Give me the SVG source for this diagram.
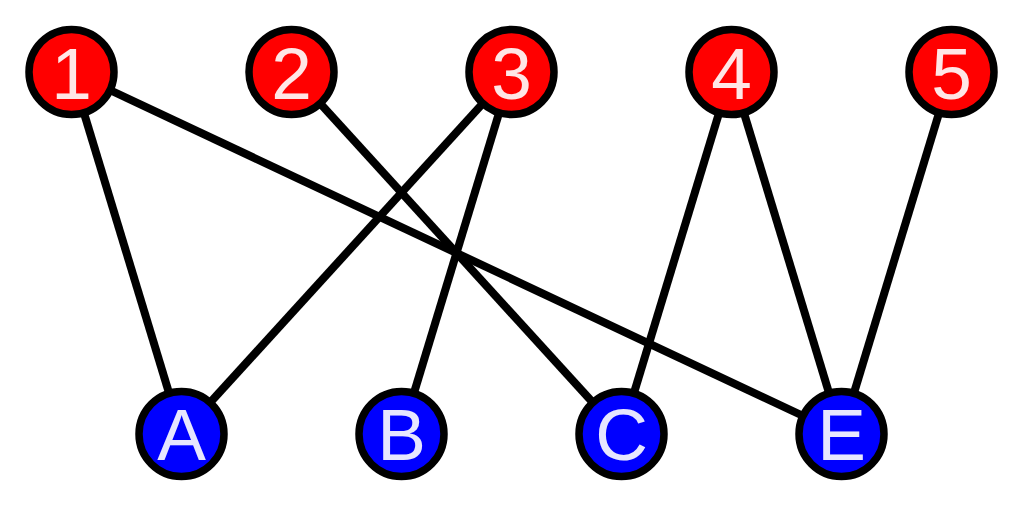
<svg xmlns="http://www.w3.org/2000/svg" width="1024" height="506" viewBox="0 0 1024 506">
<style>
.e{stroke:#000;stroke-width:8;fill:none}
.n circle{stroke:#000;stroke-width:7.5}
.r circle{fill:#ff0000}
.b circle{fill:#0000ff}
.n text{font-family:"Liberation Sans",Arial,sans-serif;font-size:73px;text-anchor:middle}
.r text{fill:#ffe6e6}
.b text{fill:#e6e6ff}
</style>
<rect width="1024" height="506" fill="#fff"/>
<g id="edges">
<line class="e" x1="71.5" y1="72" x2="181.5" y2="434"/>
<line class="e" x1="71.5" y1="72" x2="841.5" y2="434"/>
<line class="e" x1="291.5" y1="72" x2="621.5" y2="434"/>
<line class="e" x1="511.5" y1="72" x2="181.5" y2="434"/>
<line class="e" x1="511.5" y1="72" x2="401.5" y2="434"/>
<line class="e" x1="731.5" y1="72" x2="621.5" y2="434"/>
<line class="e" x1="731.5" y1="72" x2="841.5" y2="434"/>
<line class="e" x1="951.5" y1="72" x2="841.5" y2="434"/>
</g>
<g id="n1" class="n r"><circle cx="71.5" cy="72" r="42.5"/><text x="71.5" y="99">1</text></g>
<g id="n2" class="n r"><circle cx="291.5" cy="72" r="42.5"/><text x="291.5" y="99">2</text></g>
<g id="n3" class="n r"><circle cx="511.5" cy="72" r="42.5"/><text x="511.5" y="99">3</text></g>
<g id="n4" class="n r"><circle cx="731.5" cy="72" r="42.5"/><text x="731.5" y="99">4</text></g>
<g id="n5" class="n r"><circle cx="951.5" cy="72" r="42.5"/><text x="951.5" y="99">5</text></g>
<g id="nA" class="n b"><circle cx="181.5" cy="434" r="42.5"/><text x="181.5" y="460">A</text></g>
<g id="nB" class="n b"><circle cx="401.5" cy="434" r="42.5"/><text x="401.5" y="460">B</text></g>
<g id="nC" class="n b"><circle cx="621.5" cy="434" r="42.5"/><text x="621.5" y="460">C</text></g>
<g id="nE" class="n b"><circle cx="841.5" cy="434" r="42.5"/><text x="841.5" y="460">E</text></g>
</svg>
